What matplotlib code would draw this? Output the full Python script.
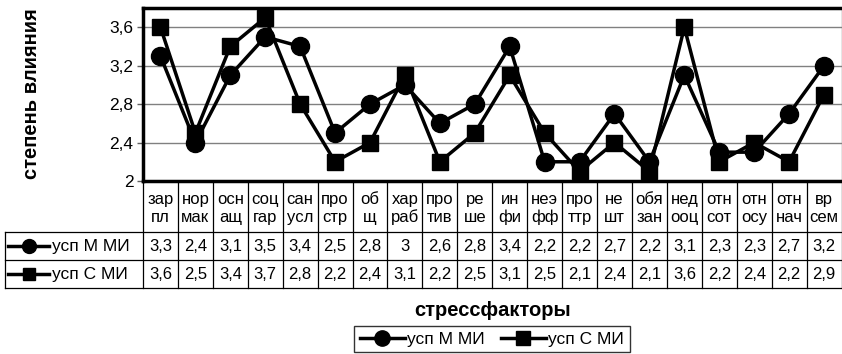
import matplotlib
matplotlib.use("Agg")
import matplotlib.pyplot as plt
from matplotlib.transforms import blended_transform_factory

plt.rcParams["font.family"] = ["Liberation Sans", "DejaVu Sans"]

# Stress factors (two-line abbreviations) and mean influence scores
categories = ["зар\nпл", "нор\nмак", "осн\nащ", "соц\nгар", "сан\nусл",
              "про\nстр", "об\nщ", "хар\nраб", "про\nтив", "ре\nше",
              "ин\nфи", "неэ\nфф", "про\nттр", "не\nшт", "обя\nзан",
              "нед\nооц", "отн\nсот", "отн\nосу", "отн\nнач", "вр\nсем"]
series_names = ["усп М МИ", "усп С МИ"]
values_m = [3.3, 2.4, 3.1, 3.5, 3.4, 2.5, 2.8, 3.0, 2.6, 2.8,
            3.4, 2.2, 2.2, 2.7, 2.2, 3.1, 2.3, 2.3, 2.7, 3.2]
values_c = [3.6, 2.5, 3.4, 3.7, 2.8, 2.2, 2.4, 3.1, 2.2, 2.5,
            3.1, 2.5, 2.1, 2.4, 2.1, 3.6, 2.2, 2.4, 2.2, 2.9]
y_ticks = [2.0, 2.4, 2.8, 3.2, 3.6]
y_tick_labels = ["2", "2,4", "2,8", "3,2", "3,6"]
x_title = "стрессфакторы"
y_title = "степень влияния"


def fmt(v):
    return f"{v:g}".replace(".", ",")


W, H = 842, 354
fig = plt.figure(figsize=(W / 100, H / 100), dpi=100)

# full-figure overlay in pixel units for the data table
ov = fig.add_axes([0, 0, 1, 1], zorder=0)
ov.set_xlim(0, W)
ov.set_ylim(H, 0)
ov.axis("off")

L, R, T, B = 143, 841.5, 8, 181
ax = fig.add_axes([L / W, 1 - B / H, (R - L) / W, (B - T) / H], zorder=2)
ax.patch.set_alpha(0)

xs = list(range(len(categories)))
styles = [dict(marker="o", ms=13), dict(marker="s", ms=12)]
for vals, st in zip([values_m, values_c], styles):
    ax.plot(xs, vals, color="black", lw=2.5, clip_on=False, **st)

ax.set_xlim(-0.5, len(categories) - 0.5)
ax.set_ylim(2.0, 3.8)
ax.set_yticks(y_ticks)
ax.set_yticklabels(y_tick_labels)
ax.set_xticks([])
ax.yaxis.grid(True, color="#808080", lw=1)
ax.set_axisbelow(True)
ax.tick_params(axis="y", length=4.5, width=1, color="#606060", pad=2.5,
               labelsize=12.5)
for side in ["left", "top", "bottom"]:
    ax.spines[side].set_linewidth(2.5)
    ax.spines[side].set_color("black")
ax.spines["right"].set_linewidth(1)
ax.spines["right"].set_color("#808080")

fig.text(31.5 / W, 1 - 94 / H, y_title, rotation=90, ha="center",
         va="center", fontsize=14.5, fontweight="bold")

# data table under the plot
bt = blended_transform_factory(ax.transData, ov.transData)
y_head_top, y_r1, y_r2, y_bot = 181, 232, 260, 288
lc = dict(color="black", lw=0.9)
for k in range(len(categories) + 1):
    ov.plot([k - 0.5, k - 0.5], [y_head_top, y_bot], transform=bt, **lc)
for yy in [y_r1, y_r2, y_bot]:
    ov.plot([5, R], [yy, yy], **lc)
ov.plot([5, 5], [y_r1, y_bot], **lc)

for i, lab in enumerate(categories):
    ov.text(i, (y_head_top + y_r1) / 2 + 2, lab, transform=bt, ha="center",
            va="center", fontsize=12, linespacing=1.2)

row_y = [(y_r1 + y_r2) / 2, (y_r2 + y_bot) / 2]
for yy, vals, st, name in zip(row_y, [values_m, values_c], styles,
                              series_names):
    for i, v in enumerate(vals):
        ov.text(i, yy + 0.5, fmt(v), transform=bt, ha="center", va="center",
                fontsize=12)
    ov.plot([8, 49], [yy, yy], color="black", lw=2.5)
    ov.plot([28.5], [yy], color="black", marker=st["marker"],
            ms=st["ms"] - 3, lw=0)
    ov.text(52, yy + 1, name, ha="left", va="center", fontsize=12.5)

fig.text(493 / W, 1 - 310 / H, x_title, ha="center", va="center",
         fontsize=14.5, fontweight="bold")

# legend box at the bottom
handles = [plt.Line2D([], [], color="black", lw=2.5, marker=st["marker"],
                      ms=st["ms"] - 2) for st in styles]
leg = fig.legend(handles, series_names, loc="center",
                 bbox_to_anchor=(492 / W, 1 - 339 / H), ncol=2,
                 frameon=True, fancybox=False, edgecolor="black",
                 fontsize=12.5, handlelength=2.6, handletextpad=0.15,
                 columnspacing=0.9, borderpad=0.32, borderaxespad=0)
leg.get_frame().set_linewidth(1)

fig.savefig("out.png", dpi=100)
